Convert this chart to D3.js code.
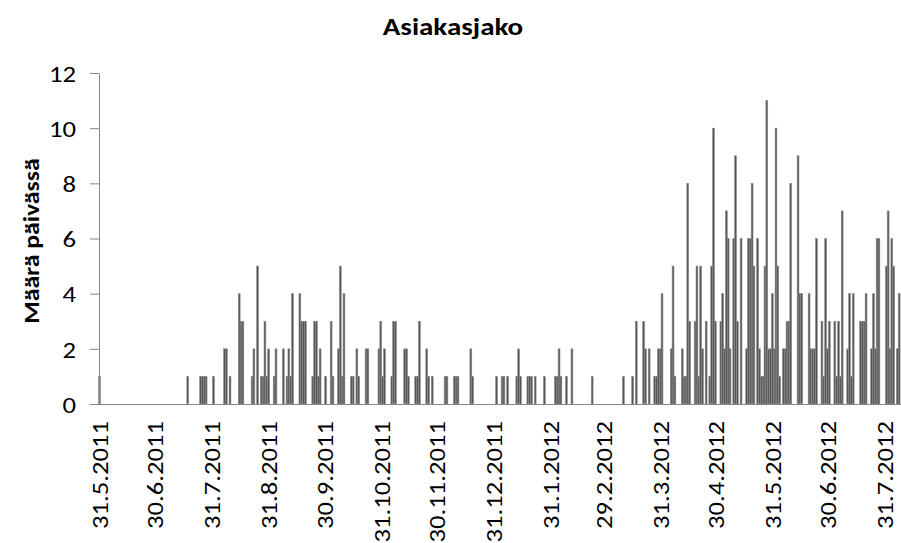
<!DOCTYPE html>
<html>
<head>
<meta charset="utf-8">
<script src="https://cdn.jsdelivr.net/npm/d3@7/dist/d3.min.js"></script>
<style>
  html, body { margin: 0; padding: 0; background: #fff; }
  svg { display: block; }
  text { font-family: Carlito, Calibri, Lato, "Open Sans", sans-serif; fill: #000; }
</style>
</head>
<body>
<svg id="chart" width="901" height="543"></svg>
<script>
// Daily customer allocations, one value per day starting 31.5.2011
const startDate = Date.UTC(2011, 4, 31);
const dailyCounts = [
  1,0,0,0,0,0,0,0,0,0,  0,0,0,0,0,0,0,0,0,0,  0,0,0,0,0,0,0,0,0,0,
  0,0,0,0,0,0,0,0,0,0,  0,0,0,0,0,0,0,0,1,0,  0,0,0,0,0,1,1,1,1,0,
  0,0,1,0,0,0,0,0,2,2,  0,1,0,0,0,0,4,3,3,0,  0,0,0,1,2,0,5,0,1,1,
  3,1,2,0,0,1,2,0,0,0,  2,0,1,2,1,4,0,0,0,4,  3,3,3,0,0,0,1,3,3,1,
  2,0,0,1,0,0,3,1,0,0,  2,5,1,4,0,0,0,1,1,0,  2,1,0,0,0,2,2,0,0,0,
  0,0,2,3,1,2,0,0,0,1,  3,3,0,0,0,0,2,2,1,0,  0,0,1,1,3,0,0,0,2,1,
  0,1,0,0,0,0,0,0,1,1,  0,0,0,1,1,1,0,0,0,0,  0,0,2,1,0,0,0,0,0,0,
  0,0,0,0,0,0,1,0,0,1,  1,0,1,0,0,0,0,1,2,1,  0,0,0,1,1,1,0,1,0,0,
  0,0,1,0,0,0,0,0,1,1,  2,1,0,0,1,0,0,2,0,0,  0,0,0,0,0,0,0,0,1,0,
  0,0,0,0,0,0,0,0,0,0,  0,0,0,0,0,1,0,0,0,0,  1,0,3,0,0,0,3,2,0,2,
  0,0,1,1,2,2,4,0,0,0,  0,2,5,1,0,0,0,2,1,1,  8,3,0,0,3,5,1,5,2,0,
  3,0,1,5,10,3,0,0,3,4, 2,7,6,2,0,6,9,3,0,6,  0,0,2,6,6,8,5,0,6,2,
  1,1,5,11,2,2,4,2,10,5, 1,0,2,2,3,3,8,0,0,0, 9,4,4,0,0,0,4,2,2,2,
  6,0,0,3,1,6,2,3,0,0,  3,1,3,1,7,0,0,2,4,1,  4,0,0,0,3,3,3,4,0,0,
  2,4,2,6,6,0,0,0,5,7,  2,6,5,0,2,4
];

// Month-end labels on the date axis
const tickLabels = [
  "31.5.2011", "30.6.2011", "31.7.2011", "31.8.2011", "30.9.2011",
  "31.10.2011", "30.11.2011", "31.12.2011", "31.1.2012", "29.2.2012",
  "31.3.2012", "30.4.2012", "31.5.2012", "30.6.2012", "31.7.2012"
];
const yTicks = [0, 2, 4, 6, 8, 10, 12];

const chartTitle = "Asiakasjako";
const yTitle = "Määrä päivässä";

(function draw() {
  const DAY = 86400000;
  const WIDE = 1.16; // horizontal stretch of the lettering
  const parseLabel = s => {
    const [d, m, yr] = s.split(".").map(Number);
    return new Date(Date.UTC(yr, m - 1, d));
  };

  const data = dailyCounts.map((v, i) => ({ date: new Date(startDate + i * DAY), value: v }));

  const svg = d3.select("#chart");
  const plotLeft = 99, plotRight = 901, plotTop = 73, plotBottom = 404;

  const x = d3.scaleUtc()
    .domain([new Date(startDate), new Date(startDate + dailyCounts.length * DAY)])
    .range([plotLeft + 0.5, plotRight]);
  const dayW = x(new Date(startDate + DAY)) - x(new Date(startDate));

  const y = d3.scaleLinear().domain([0, 12]).range([plotBottom, plotTop]);

  // Bars
  svg.append("g")
    .selectAll("rect")
    .data(data.filter(d => d.value > 0))
    .join("rect")
    .attr("x", d => x(d.date) - dayW / 2)
    .attr("y", d => y(d.value))
    .attr("width", dayW)
    .attr("height", d => y(0) - y(d.value))
    .attr("fill", "#555555")
    .attr("stroke", "#8c8c8c")
    .attr("stroke-width", 0.6);

  // Y axis
  const yAxis = svg.append("g")
    .attr("transform", `translate(${plotLeft},0)`)
    .call(d3.axisLeft(y).tickValues(yTicks).tickSize(9).tickSizeOuter(0));
  yAxis.select(".domain").attr("stroke", "#868686");
  yAxis.selectAll(".tick line").attr("stroke", "#868686");
  yAxis.selectAll(".tick text")
    .style("font-size", "23px")
    .attr("fill", "#1a1a1a")
    .attr("x", 0)
    .attr("dy", "0.36em")
    .attr("transform", `translate(-23,0) scale(${WIDE},1)`);

  // X axis
  const xAxis = svg.append("g")
    .attr("transform", `translate(0,${plotBottom})`)
    .call(d3.axisBottom(x)
      .tickValues(tickLabels.map(parseLabel))
      .tickFormat((d, i) => tickLabels[i])
      .tickSize(0).tickSizeOuter(0));
  xAxis.select(".domain").attr("stroke", "#868686").attr("d", `M${plotLeft},0.5H${plotRight}`);
  xAxis.selectAll(".tick text")
    .style("font-size", "23px")
    .attr("fill", "#1a1a1a")
    .attr("text-anchor", "end")
    .attr("transform", `rotate(-90) translate(-17,0) scale(${WIDE},1)`)
    .attr("x", 0)
    .attr("y", 0)
    .attr("dy", "0.36em");

  // Titles
  svg.append("text")
    .attr("transform", `translate(453,35) scale(${WIDE},1)`)
    .attr("text-anchor", "middle")
    .style("font-size", "25px").style("font-weight", "bold")
    .text(chartTitle);

  svg.append("text")
    .attr("transform", `translate(31,241) rotate(-90) scale(1.12,1)`)
    .attr("text-anchor", "middle")
    .attr("dy", "0.36em")
    .style("font-size", "23px").style("font-weight", "bold")
    .text(yTitle);
})();
</script>
</body>
</html>
